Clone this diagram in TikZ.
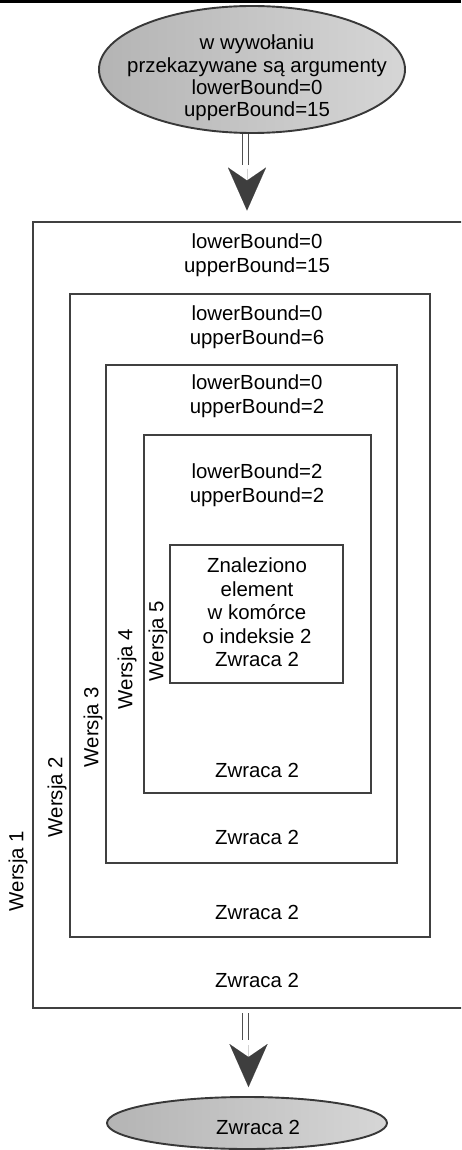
\documentclass[tikz,border=0pt]{standalone}
\usepackage{fontspec}
\setmainfont{Liberation Sans}
\usetikzlibrary{shapes.geometric, arrows.meta}

\definecolor{framegray}{HTML}{404040}
\definecolor{ovalline}{HTML}{383838}
\definecolor{railgray}{HTML}{505050}
\definecolor{headgray}{HTML}{3E3E3E}
\definecolor{ovalleft}{HTML}{B4B4B4}
\definecolor{ovalright}{HTML}{D6D6D6}

\tikzset{
  frame/.style={rectangle, draw=framegray, line width=2.9pt, inner sep=0pt},
  lbl/.style={font=\fontsize{20.4}{23.6}\selectfont, align=center, inner sep=0pt},
  ovallbl/.style={font=\fontsize{20.4}{22.3}\selectfont, align=center, inner sep=0pt},
  verlbl/.style={font=\fontsize{20.4}{23.6}\selectfont, inner sep=0pt, rotate=90},
  oval/.style={ellipse, draw=ovalline, line width=1.9pt, left color=ovalleft, right color=ovalright, inner sep=0pt},
  rail/.style={draw=railgray, double=white, double distance=4.1pt, line width=1.5pt},
  head/.style={-{Stealth[length=43pt, width=38pt, inset=13pt]}, draw=headgray, fill=headgray, line width=0.01pt},
}

\begin{document}
\begin{tikzpicture}[x=1pt, y=-1pt]
  \clip (0,0) rectangle (461,1150);
  \path[use as bounding box] (0,0) rectangle (461,1150);

  % rule along the top edge
  \draw[black, line width=2.6pt] (0,1.3) -- (461,1.3);

  % call with its arguments
  \node[oval, minimum width=306pt, minimum height=127pt] (e1) at (252,69.5) {};
  \node[ovallbl] (t1) at (257,78) {w wywołaniu\\przekazywane są argumenty\\lowerBound=0\\upperBound=15};

  % nested recursion frames
  \node[frame, minimum width=462pt, minimum height=786pt] (b1) at (264,615) {};
  \node[frame, minimum width=360pt, minimum height=643pt] (b2) at (250,615.5) {};
  \node[frame, minimum width=291pt, minimum height=498pt] (b3) at (251.5,614) {};
  \node[frame, minimum width=227pt, minimum height=358pt] (b4) at (257.5,614) {};
  \node[frame, minimum width=173pt, minimum height=138pt] (b5) at (256.5,614) {};

  % arguments of each call
  \node[lbl] (a1) at (257,255.5) {lowerBound=0\\upperBound=15};
  \node[lbl] (a2) at (257,327.5) {lowerBound=0\\upperBound=6};
  \node[lbl] (a3) at (257,396) {lowerBound=0\\upperBound=2};
  \node[lbl] (a4) at (257,485.5) {lowerBound=2\\upperBound=2};
  \node[lbl] (a5) at (257,612.5) {Znaleziono\\element\\w komórce\\o indeksie 2\\Zwraca 2};

  % returned values
  \node[lbl] (z4) at (257,770) {Zwraca 2};
  \node[lbl] (z3) at (257,837) {Zwraca 2};
  \node[lbl] (z2) at (257,912) {Zwraca 2};
  \node[lbl] (z1) at (257,980) {Zwraca 2};

  % version labels
  \node[verlbl] (w1) at (18,871) {Wersja 1};
  \node[verlbl] (w2) at (57,797) {Wersja 2};
  \node[verlbl] (w3) at (93,727) {Wersja 3};
  \node[verlbl] (w4) at (127,669) {Wersja 4};
  \node[verlbl] (w5) at (158,641) {Wersja 5};

  % result
  \node[oval, minimum width=280pt, minimum height=52pt] (e2) at (247,1123) {};
  \node[lbl] (t2) at (258,1127) {Zwraca 2};

  % connectors
  \coordinate (r1) at (245.5,165);
  \coordinate (h1) at (247,169);
  \draw[rail] (e1.south -| r1) -- (r1);
  \draw[head, shorten >=10pt] (h1) -- (h1 |- b1.north);

  \coordinate (r2) at (245.5,1040);
  \coordinate (h2) at (248.5,1045);
  \draw[rail, shorten <=4pt] (b1.south -| r2) -- (r2);
  \draw[head, shorten >=9pt] (h2) -- (h2 |- e2.north);
\end{tikzpicture}
\end{document}
